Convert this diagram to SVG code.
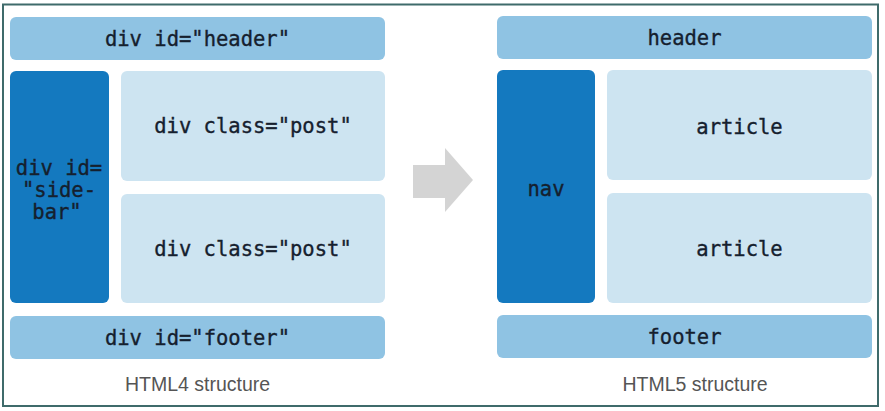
<svg xmlns="http://www.w3.org/2000/svg" width="885" height="411" viewBox="0 0 885 411">
<style>
.hf{fill:#8fc3e3}
.side{fill:#1479bf}
.post{fill:#cde4f1}
.t{font-family:"DejaVu Sans Mono","Liberation Mono",monospace;font-size:20.5px;fill:#15202e;stroke:#15202e;stroke-width:0.35;text-anchor:middle}
.cap{font-family:"Liberation Sans",Arial,sans-serif;font-size:19.5px;fill:#555;text-anchor:middle}
</style>
<rect x="0" y="0" width="885" height="411" fill="#fff"/>
<rect x="3" y="4.5" width="875" height="401.5" fill="none" stroke="#3f6b6b" stroke-width="2"/>
<g id="html4">
<g id="div-header"><rect class="hf" x="10" y="17" width="375" height="43" rx="6"/><text class="t" x="197.5" y="46">div id="header"</text></g>
<g id="div-sidebar"><rect class="side" x="10" y="71" width="99" height="232" rx="6"/>
<text class="t" x="59" y="175">div id=</text><text class="t" x="59" y="197">"side-</text><text class="t" x="57" y="219">bar"</text></g>
<g id="div-post1"><rect class="post" x="121" y="71" width="264" height="110" rx="6"/><text class="t" x="253" y="133">div class="post"</text></g>
<g id="div-post2"><rect class="post" x="121" y="194" width="264" height="109" rx="6"/><text class="t" x="253" y="256">div class="post"</text></g>
<g id="div-footer"><rect class="hf" x="10" y="316" width="375" height="43" rx="6"/><text class="t" x="197.5" y="345">div id="footer"</text></g>
<text class="cap" x="197.5" y="391">HTML4 structure</text>
</g>
<g id="connectors">
<polygon points="413,165 445,165 445,148 473,180 445,212 445,198 413,198" fill="#d4d4d4"/>
</g>
<g id="html5">
<g id="header"><rect class="hf" x="497" y="16" width="375" height="43" rx="6"/><text class="t" x="684.5" y="45">header</text></g>
<g id="nav"><rect class="side" x="497" y="70" width="98" height="233" rx="6"/><text class="t" x="546" y="196">nav</text></g>
<g id="article1"><rect class="post" x="607" y="70" width="265" height="110" rx="6"/><text class="t" x="739.5" y="134">article</text></g>
<g id="article2"><rect class="post" x="607" y="193" width="265" height="110" rx="6"/><text class="t" x="739.5" y="256">article</text></g>
<g id="footer"><rect class="hf" x="497" y="315" width="375" height="43" rx="6"/><text class="t" x="684.5" y="344">footer</text></g>
<text class="cap" x="695" y="391">HTML5 structure</text>
</g>
</svg>
